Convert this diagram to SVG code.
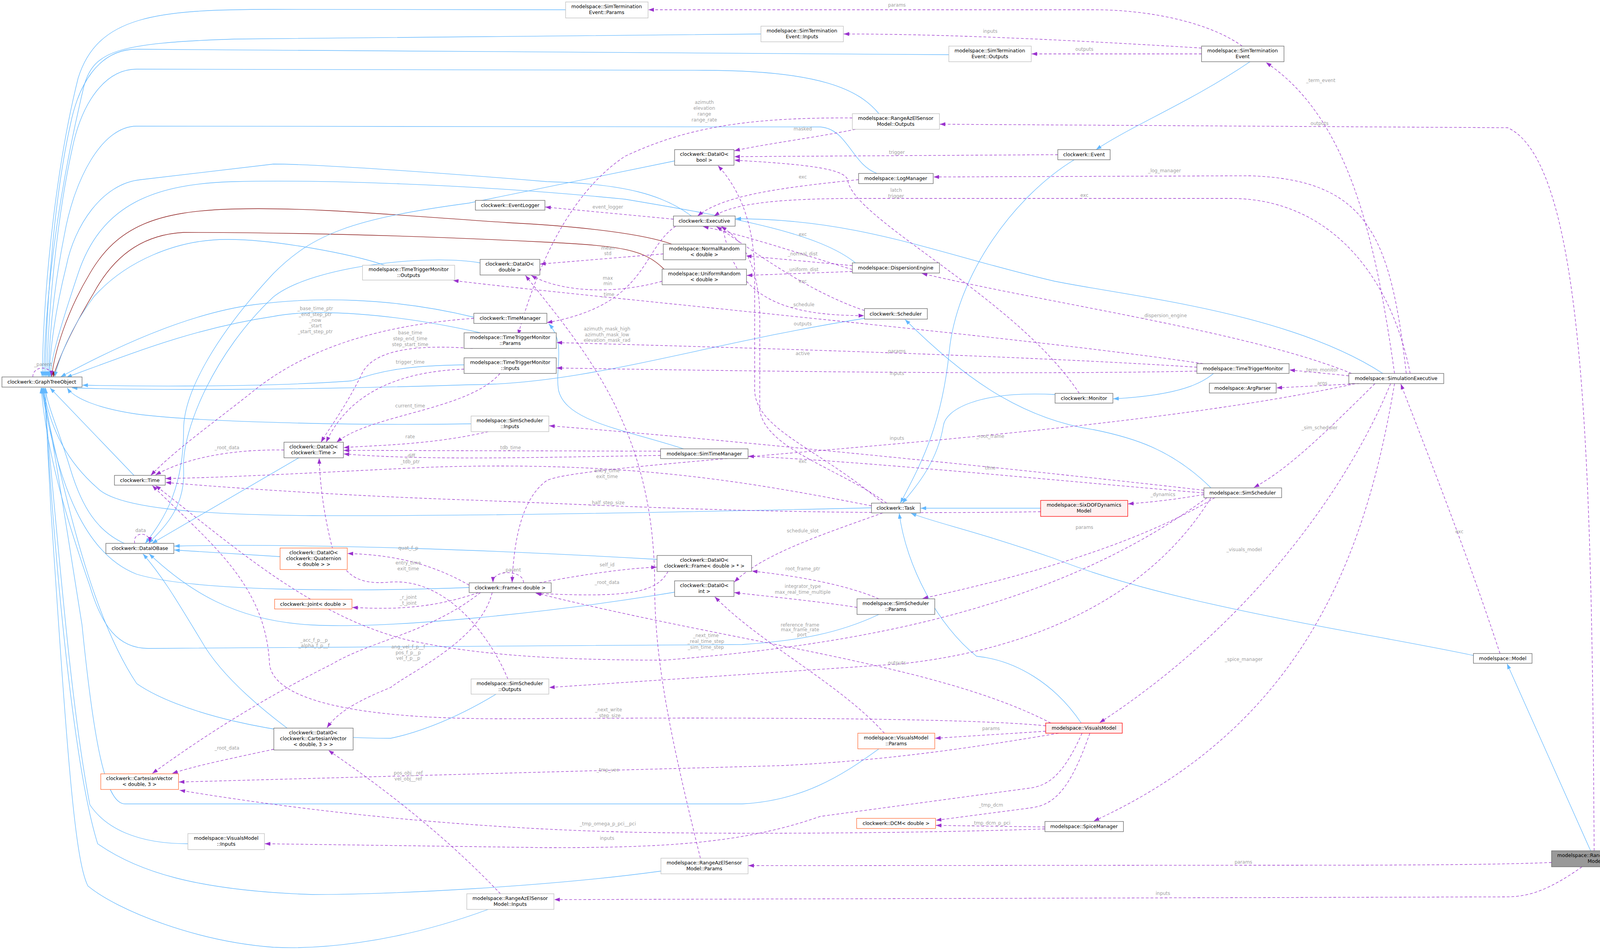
<svg xmlns="http://www.w3.org/2000/svg" width="4199" height="2432" viewBox="0 0 4199 2432">
<style>
.n text{font-family:"DejaVu Sans",sans-serif;font-size:12.5px;text-anchor:middle;fill:#000}
.n rect{fill:#fff;stroke:#666;stroke-width:1.3}
.n.lt rect{stroke:#bdbdbd}
.n.or rect{stroke:#ff6a33}
.n.rd rect{stroke:#ff0000;fill:#fff0f0}
.n.gy rect{fill:#999;stroke:#666}
.b{fill:none;stroke:#63b8ff;stroke-width:1.3;marker-end:url(#ab)}
.r{fill:none;stroke:#8b1a1a;stroke-width:1.3;marker-end:url(#ar)}
.p{fill:none;stroke:#9a32cd;stroke-width:1.3;stroke-dasharray:7,5;marker-end:url(#ap)}
.l{font-family:"DejaVu Sans",sans-serif;font-size:12px;text-anchor:middle;fill:#a0a0a0}
</style>
<defs>
<marker id="ab" markerUnits="userSpaceOnUse" markerWidth="14" markerHeight="10" refX="14" refY="5" orient="auto"><path d="M0,0L14,5L0,10z" fill="#63b8ff"/></marker>
<marker id="ar" markerUnits="userSpaceOnUse" markerWidth="14" markerHeight="10" refX="14" refY="5" orient="auto"><path d="M0,0L14,5L0,10z" fill="#8b1a1a"/></marker>
<marker id="ap" markerUnits="userSpaceOnUse" markerWidth="14" markerHeight="10" refX="14" refY="5" orient="auto"><path d="M0,0L14,5L0,10z" fill="#9a32cd"/></marker>
</defs>
<rect width="4199" height="2432" fill="#fff"/>
<g id="connectors">
<!-- inheritance to GraphTreeObject -->
<path class="b" d="M1448,25 L700,24 C400,24 250,40 200,200 C150,400 112,700 108,965"/>
<path class="b" d="M1948,87 L600,100 C300,110 240,130 215,220 C160,450 118,700 112,965"/>
<path class="b" d="M2429,140 L350,126 C250,126 200,220 180,320 C140,500 120,750 116,965"/>
<path class="b" d="M2250,291 C2200,230 2100,180 1800,180 L350,177 C270,177 210,260 185,380 C145,560 123,800 120,965"/>
<path class="b" d="M2245,444 C2180,420 2170,330 2100,325 L350,323 C260,323 190,460 165,600 C135,750 126,870 124,965"/>
<path class="b" d="M1770,553 C1700,500 1600,470 1400,465 C1100,440 800,420 700,420 L360,460 C260,470 190,580 170,680 C140,800 128,900 126,965"/>
<path class="b" d="M2190,673 C2100,600 1900,560 1600,510 C1200,470 800,460 600,465 C400,470 260,520 200,700 C150,850 130,920 129,965"/>
<path class="r" d="M1720,625 C1650,600 1500,580 1300,570 C1000,550 800,530 600,535 C400,540 300,580 230,700 C170,800 140,900 132,965"/>
<path class="r" d="M1700,689 C1650,640 1600,630 1400,620 C1000,600 700,595 470,595 C380,600 300,640 240,750 C180,850 150,920 136,965"/>
<path class="b" d="M985,679 C900,650 700,612 580,613 C450,613 320,670 240,760 C180,840 150,920 140,965"/>
<path class="b" d="M1213,812 C1000,760 800,760 650,780 C500,800 330,870 155,965"/>
<path class="b" d="M1230,852 C1000,800 800,790 700,810 C500,840 350,900 170,966"/>
<path class="b" d="M1188,934 C1000,936 950,960 900,975 C700,990 400,990 211,986"/>
<path class="b" d="M2213,815 C1800,880 1500,985 1200,985 C800,998 400,1000 184,993"/>
<path class="b" d="M1206,1085 C900,1090 500,1080 350,1060 C250,1045 190,1020 172,993"/>
<path class="b" d="M343,1217 L128,993"/>
<path class="b" d="M318,1391 C250,1360 210,1300 180,1200 C150,1100 125,1050 115,993"/>
<path class="b" d="M2231,1300 C1800,1310 1200,1322 800,1320 C500,1318 300,1300 250,1250 C170,1180 130,1100 110,993"/>
<path class="b" d="M1201,1504 C900,1515 500,1515 350,1470 C220,1420 150,1250 106,993"/>
<path class="b" d="M2250,1573 C2150,1620 2050,1640 1900,1650 L380,1660 C300,1660 260,1600 230,1500 C160,1300 120,1150 105,993"/>
<path class="b" d="M1270,1777 C1150,1850 1050,1880 1000,1890 C700,1890 450,1820 350,1750 C250,1600 180,1350 107,993"/>
<path class="b" d="M2250,1917 C2150,1990 2050,2050 1900,2058 L320,2058 C270,2058 240,1900 210,1600 C170,1350 140,1150 109,993"/>
<path class="b" d="M481,2160 C350,2160 270,2120 230,2060 C180,1800 150,1400 111,993"/>
<path class="b" d="M1692,2230 C1400,2270 1000,2290 800,2290 C500,2280 350,2230 250,2160 C200,2000 150,1600 113,993"/>
<path class="b" d="M1250,2328 C1000,2420 800,2430 700,2425 C500,2410 300,2330 225,2268 C190,2200 170,1900 130,1300 C125,1200 118,1100 117,993"/>
<!-- DataIOBase -->
<path class="b" d="M1727,412 C1500,460 1300,500 1200,520 C900,560 800,600 700,700 C560,850 470,1000 470,1100 C470,1250 420,1330 372,1391"/>
<path class="b" d="M1229,673 C1100,650 800,680 700,760 C550,900 465,1100 470,1200 C475,1300 420,1350 380,1391"/>
<path class="b" d="M765,1172 L389,1391"/>
<path class="b" d="M717,1425 L446,1408"/>
<path class="b" d="M1682,1432 C1300,1410 800,1390 446,1398"/>
<path class="b" d="M1727,1516 C1400,1570 1000,1610 800,1600 C600,1590 480,1510 382,1418"/>
<path class="b" d="M735,1864 C650,1800 560,1720 515,1640 C460,1550 420,1480 366,1418"/>
<!-- other inheritance -->
<path class="b" d="M3540,956 C3300,800 2900,760 2700,720 C2400,650 2200,560 1883,560"/>
<path class="b" d="M1750,1149 C1600,1100 1450,1080 1430,1000 C1420,940 1450,880 1405,829"/>
<path class="b" d="M3130,931 C3100,970 3050,1010 2850,1021"/>
<path class="b" d="M3200,158 C3050,260 2900,320 2806,383"/>
<path class="b" d="M3100,1249 C3000,1150 2900,1120 2800,1100 C2600,1070 2450,950 2317,818"/>
<path class="b" d="M2701,1010 C2500,1000 2420,1050 2415,1090 C2400,1180 2350,1240 2310,1288"/>
<path class="b" d="M2750,409 C2600,500 2450,700 2430,900 C2410,1100 2350,1200 2305,1288"/>
<path class="b" d="M2664,1301 L2357,1301"/>
<path class="b" d="M2768,1851 C2700,1750 2600,1690 2500,1680 C2400,1600 2320,1450 2302,1314"/>
<path class="b" d="M3772,1678 C3500,1620 3000,1550 2700,1430 C2500,1360 2400,1340 2332,1314"/>
<path class="b" d="M4072,2178 L3858,1699"/>
<!-- members -->
<path class="p" d="M3180,118 C3100,60 2950,25 2800,25 L1660,25"/>
<path class="p" d="M3076,123 C2700,100 2400,87 2160,87"/>
<path class="p" d="M3076,138 L2641,138"/>
<path class="p" d="M4081,2178 C4075,1200 4060,420 3860,327 L2406,318"/>
<path class="p" d="M3570,956 C3520,600 3450,300 3241,160"/>
<path class="p" d="M2182,302 C1900,300 1750,330 1600,400 C1450,500 1370,700 1326,858"/>
<path class="p" d="M2190,331 C2100,350 1950,370 1880,386"/>
<path class="p" d="M2708,396 L1880,401"/>
<path class="p" d="M2763,1007 C2600,760 2180,560 2170,460 C2160,430 2050,420 1880,410"/>
<path class="p" d="M3600,956 C3560,600 3500,460 3200,450 L2390,453"/>
<path class="p" d="M3610,956 C3560,700 3400,508 3150,508 L2200,508 C2000,508 1880,520 1828,553"/>
<path class="p" d="M2198,460 C2000,480 1850,500 1786,553"/>
<path class="p" d="M1724,561 L1396,530"/>
<path class="p" d="M2182,690 C2050,650 1900,600 1800,580"/>
<path class="p" d="M1698,650 L1383,676"/>
<path class="p" d="M2182,680 L1910,655"/>
<path class="p" d="M2182,695 L1912,705"/>
<path class="p" d="M1695,720 C1550,760 1420,740 1360,705"/>
<path class="p" d="M2213,795 C2050,740 1900,620 1834,580"/>
<path class="p" d="M1730,579 C1640,640 1660,780 1400,826"/>
<path class="p" d="M1850,579 C1880,760 2000,808 2212,808"/>
<path class="p" d="M3460,956 C3200,850 2700,780 2360,700"/>
<path class="p" d="M3080,931 C2600,860 1500,760 1160,718"/>
<path class="p" d="M3064,940 C2600,910 1900,890 1425,877"/>
<path class="p" d="M3064,950 C2600,960 1900,950 1425,942"/>
<path class="p" d="M3453,962 L3301,947"/>
<path class="p" d="M3480,982 L3268,993"/>
<path class="p" d="M1213,815 C1000,830 800,880 650,1000 C550,1080 450,1150 386,1217"/>
<path class="p" d="M1210,892 C1050,880 950,900 925,960 C880,1050 840,1100 822,1132"/>
<path class="p" d="M1188,945 C1050,950 900,990 835,1132"/>
<path class="p" d="M1280,956 C1200,1050 950,1060 862,1132"/>
<path class="p" d="M1250,1105 C1100,1140 950,1140 880,1146"/>
<path class="p" d="M1691,1155 L880,1153"/>
<path class="p" d="M1691,1166 C1400,1170 1100,1180 880,1162"/>
<path class="p" d="M727,1152 C600,1150 480,1170 398,1216"/>
<path class="p" d="M2231,1295 C1900,1230 1600,1180 1100,1196 C800,1210 600,1222 424,1225"/>
<path class="p" d="M2664,1310 C2000,1320 1600,1295 1200,1280 C900,1270 600,1250 424,1235"/>
<path class="p" d="M3082,1255 C2600,1200 1800,1120 1406,1090"/>
<path class="p" d="M3470,982 C2800,1130 1500,1180 1400,1230 C1330,1280 1315,1400 1311,1491"/>
<path class="p" d="M3082,1262 C2700,1230 2200,1180 1916,1168"/>
<path class="p" d="M3082,1266 C3000,1280 2950,1285 2888,1290"/>
<path class="p" d="M3110,1274 C2900,1400 2600,1480 2362,1532"/>
<path class="p" d="M3520,982 C3400,1100 3300,1200 3210,1248"/>
<path class="p" d="M3560,982 C3450,1250 3200,1600 2815,1850"/>
<path class="p" d="M3570,982 C3500,1400 3350,1850 2800,2102"/>
<path class="p" d="M3840,1673 C3750,1400 3650,1150 3586,983"/>
<path class="p" d="M3972,2208 C3800,2215 3500,2215 3200,2215 L1916,2216"/>
<path class="p" d="M4050,2219 C3950,2290 3900,2296 3850,2296 L1419,2303"/>
<path class="p" d="M2677,1872 L2394,1890"/>
<path class="p" d="M2770,1877 C2720,1990 2680,2010 2640,2017 L2100,2090 C1900,2160 1700,2170 1400,2170 L678,2160"/>
<path class="p" d="M2790,1877 C2740,2020 2700,2060 2640,2068 L2396,2100"/>
<path class="p" d="M2675,2117 L2396,2113"/>
<path class="p" d="M2675,2122 C2300,2135 1800,2135 1600,2130 C1200,2120 800,2080 460,2023"/>
<path class="p" d="M2710,1877 C2400,1930 2200,1950 2000,1960 L458,2002"/>
<path class="p" d="M2677,1858 C2400,1830 1400,1840 1280,1840 C900,1840 700,1790 690,1700 C680,1500 550,1400 390,1243"/>
<path class="p" d="M2690,1851 C2400,1700 1900,1650 1371,1518"/>
<path class="p" d="M2264,1877 C2150,1750 1950,1650 1830,1528"/>
<path class="p" d="M2250,1533 C2150,1490 2000,1470 1925,1462"/>
<path class="p" d="M2194,1555 C2100,1540 1950,1525 1880,1517"/>
<path class="p" d="M2260,1313 C2100,1370 1950,1420 1880,1490"/>
<path class="p" d="M1380,1492 C1500,1470 1600,1455 1681,1452"/>
<path class="p" d="M1710,1463 C1680,1520 1600,1530 1372,1519"/>
<path class="p" d="M1340,1492 C1342,1460 1262,1455 1262,1491"/>
<path class="p" d="M1201,1498 C1100,1440 1000,1420 890,1417"/>
<path class="p" d="M1225,1517 C1100,1560 1000,1560 902,1555"/>
<path class="p" d="M1300,1738 C1260,1640 1150,1480 1000,1490 C900,1500 880,1460 850,1400 C830,1320 820,1250 817,1173"/>
<path class="p" d="M1230,1517 C1100,1620 950,1640 850,1700 C650,1800 500,1900 390,1980"/>
<path class="p" d="M1260,1517 C1230,1640 1050,1720 1000,1760 C900,1800 860,1830 837,1863"/>
<path class="p" d="M701,1918 C600,1940 500,1960 441,1980"/>
<path class="p" d="M1281,2288 C1150,2150 1000,2030 841,1921"/>
<path class="p" d="M3100,1274 C2900,1600 2500,1680 2300,1700 L1406,1760"/>
<path class="p" d="M3090,1274 C2700,1560 2200,1650 1700,1690 C1300,1690 1150,1660 1050,1640 C800,1580 600,1400 398,1243"/>
<path class="p" d="M1793,2197 C1720,1900 1676,1700 1676,1500 C1676,1100 1500,900 1345,705"/>
<path class="p" d="M2260,1288 C2100,1150 1935,1100 1932,1000 L1932,700 C1930,550 1880,470 1838,424"/>
<path class="p" d="M2270,1288 C2150,1200 1960,1150 1945,1050 L1945,800 C1940,650 1880,600 1846,580"/>
<path class="p" d="M345,1391 C338,1360 385,1360 383,1389"/>
<path class="p" d="M84,965 C84,935 132,935 132,963"/>
</g>
<g id="labels">
<text class="l" x="2296" y="17">params</text>
<text class="l" x="2535" y="84">inputs</text>
<text class="l" x="2776" y="130">outputs</text>
<text class="l" x="3378" y="320">outputs</text>
<text class="l" x="3381" y="210">_term_event</text>
<text class="l" x="1803" y="266">azimuth</text><text class="l" x="1803" y="281">elevation</text><text class="l" x="1803" y="296">range</text><text class="l" x="1803" y="311">range_rate</text>
<text class="l" x="2055" y="334">masked</text>
<text class="l" x="2296" y="394">trigger</text>
<text class="l" x="2294" y="491">latch</text><text class="l" x="2294" y="506">trigger</text>
<text class="l" x="2981" y="441">_log_manager</text>
<text class="l" x="2776" y="504">exc</text>
<text class="l" x="2055" y="457">exc</text>
<text class="l" x="1556" y="534">event_logger</text>
<text class="l" x="2055" y="604">exc</text>
<text class="l" x="1556" y="639">mean</text><text class="l" x="1556" y="653">std</text>
<text class="l" x="2055" y="654">_normal_dist</text>
<text class="l" x="2055" y="694">_uniform_dist</text>
<text class="l" x="2055" y="724">exc</text>
<text class="l" x="1556" y="716">max</text><text class="l" x="1556" y="730">min</text>
<text class="l" x="1556" y="758">_time</text>
<text class="l" x="2055" y="784">_schedule</text>
<text class="l" x="2981" y="812">_dispersion_engine</text>
<text class="l" x="2055" y="833">outputs</text>
<text class="l" x="2055" y="909">active</text>
<text class="l" x="1554" y="846">azimuth_mask_high</text><text class="l" x="1554" y="861">azimuth_mask_low</text><text class="l" x="1554" y="875">elevation_mask_rad</text>
<text class="l" x="2296" y="903">params</text>
<text class="l" x="2296" y="960">inputs</text>
<text class="l" x="3382" y="951">_term_monitor</text>
<text class="l" x="3382" y="985">_args</text>
<text class="l" x="807" y="794">_base_time_ptr</text><text class="l" x="807" y="809">_end_step_ptr</text><text class="l" x="807" y="824">_now</text><text class="l" x="807" y="838">_start</text><text class="l" x="807" y="853">_start_step_ptr</text>
<text class="l" x="1050" y="856">base_time</text><text class="l" x="1050" y="871">step_end_time</text><text class="l" x="1050" y="886">step_start_time</text>
<text class="l" x="1050" y="931">trigger_time</text>
<text class="l" x="1050" y="1043">current_time</text>
<text class="l" x="1050" y="1122">rate</text>
<text class="l" x="1307" y="1150">tdb_time</text>
<text class="l" x="1050" y="1171">_diff</text><text class="l" x="1050" y="1186">_tdb_ptr</text>
<text class="l" x="581" y="1150">_root_data</text>
<text class="l" x="110" y="937">_parent</text>
<text class="l" x="360" y="1362">data</text>
<text class="l" x="2296" y="1126">inputs</text>
<text class="l" x="2535" y="1121">_root_frame</text>
<text class="l" x="2535" y="1202">time</text>
<text class="l" x="2055" y="1185">exc</text>
<text class="l" x="1554" y="1209">entry_time</text><text class="l" x="1554" y="1224">exit_time</text>
<text class="l" x="2977" y="1270">_dynamics</text>
<text class="l" x="1554" y="1291">_half_step_size</text>
<text class="l" x="3378" y="1099">_sim_scheduler</text>
<text class="l" x="2776" y="1354">params</text>
<text class="l" x="2055" y="1363">schedule_slot</text>
<text class="l" x="3736" y="1365">exc</text>
<text class="l" x="3185" y="1411">_visuals_model</text>
<text class="l" x="1045" y="1407">quat_f_p</text>
<text class="l" x="1045" y="1445">entry_time</text><text class="l" x="1045" y="1460">exit_time</text>
<text class="l" x="1554" y="1450">self_id</text>
<text class="l" x="1311" y="1463">_parent</text>
<text class="l" x="2055" y="1460">root_frame_ptr</text>
<text class="l" x="1554" y="1495">_root_data</text>
<text class="l" x="2055" y="1505">integrator_type</text><text class="l" x="2055" y="1520">max_real_time_multiple</text>
<text class="l" x="1045" y="1533">_r_joint</text><text class="l" x="1045" y="1548">_t_joint</text>
<text class="l" x="2048" y="1604">reference_frame</text><text class="l" x="2048" y="1616">max_frame_rate</text><text class="l" x="2053" y="1629">port</text>
<text class="l" x="1807" y="1631">_next_time</text><text class="l" x="1807" y="1646">_real_time_step</text><text class="l" x="1807" y="1661">_sim_time_step</text>
<text class="l" x="804" y="1643">_acc_f_p__p</text><text class="l" x="804" y="1657">_alpha_f_p__f</text>
<text class="l" x="1045" y="1660">ang_vel_f_p__f</text><text class="l" x="1045" y="1675">pos_f_p__p</text><text class="l" x="1045" y="1689">vel_f_p__p</text>
<text class="l" x="3184" y="1692">_spice_manager</text>
<text class="l" x="2296" y="1701">outputs</text>
<text class="l" x="1558" y="1821">_next_write</text><text class="l" x="1558" y="1836">_step_size</text>
<text class="l" x="2537" y="1869">params</text>
<text class="l" x="581" y="1919">_root_data</text>
<text class="l" x="1556" y="1975">_tmp_vec</text>
<text class="l" x="1045" y="1983">pos_obj__ref</text><text class="l" x="1045" y="1998">vel_obj__ref</text>
<text class="l" x="2537" y="2065">_tmp_dcm</text>
<text class="l" x="2537" y="2111">_tmp_dcm_p_pci</text>
<text class="l" x="1556" y="2113">_tmp_omega_p_pci__pci</text>
<text class="l" x="1554" y="2150">inputs</text>
<text class="l" x="3183" y="2211">params</text>
<text class="l" x="2977" y="2291">inputs</text>
</g>
<g id="n_gto" class="n"><rect x="5" y="965" width="205" height="26"/><text x="107" y="982">clockwerk::GraphTreeObject</text></g>
<g id="n_time" class="n"><rect x="293" y="1217" width="130" height="25"/><text x="358" y="1234">clockwerk::Time</text></g>
<g id="n_dataiobase" class="n"><rect x="271" y="1391" width="174" height="26"/><text x="358" y="1408">clockwerk::DataIOBase</text></g>
<g id="n_dio_time" class="n"><rect x="727" y="1132" width="152" height="40"/><text x="803" y="1148">clockwerk::DataIO&lt;</text><text x="803" y="1163">clockwerk::Time &gt;</text></g>
<g id="n_dio_quat" class="n or"><rect x="717" y="1403" width="172" height="55"/><text x="803" y="1419">clockwerk::DataIO&lt;</text><text x="803" y="1434">clockwerk::Quaternion</text><text x="803" y="1449">&lt; double &gt; &gt;</text></g>
<g id="n_joint" class="n or"><rect x="703" y="1534" width="198" height="25"/><text x="802" y="1551">clockwerk::Joint&lt; double &gt;</text></g>
<g id="n_ttm_out" class="n lt"><rect x="928" y="679" width="236" height="38"/><text x="1046" y="694">modelspace::TimeTriggerMonitor</text><text x="1046" y="709">::Outputs</text></g>
<g id="n_ste_params" class="n lt"><rect x="1448" y="5" width="211" height="41"/><text x="1553" y="21">modelspace::SimTermination</text><text x="1553" y="36">Event::Params</text></g>
<g id="n_ste_inputs" class="n lt"><rect x="1948" y="67" width="211" height="40"/><text x="2053" y="83">modelspace::SimTermination</text><text x="2053" y="98">Event::Inputs</text></g>
<g id="n_dio_bool" class="n"><rect x="1727" y="383" width="152" height="40"/><text x="1803" y="399">clockwerk::DataIO&lt;</text><text x="1803" y="414">bool &gt;</text></g>
<g id="n_eventlogger" class="n"><rect x="1217" y="513" width="178" height="25"/><text x="1306" y="530">clockwerk::EventLogger</text></g>
<g id="n_executive" class="n"><rect x="1724" y="553" width="158" height="26"/><text x="1803" y="570">clockwerk::Executive</text></g>
<g id="n_normal" class="n"><rect x="1698" y="625" width="211" height="40"/><text x="1803" y="641">modelspace::NormalRandom</text><text x="1803" y="656">&lt; double &gt;</text></g>
<g id="n_uniform" class="n"><rect x="1695" y="689" width="216" height="40"/><text x="1803" y="705">modelspace::UniformRandom</text><text x="1803" y="720">&lt; double &gt;</text></g>
<g id="n_dio_double" class="n"><rect x="1229" y="664" width="153" height="40"/><text x="1305" y="680">clockwerk::DataIO&lt;</text><text x="1305" y="695">double &gt;</text></g>
<g id="n_timemanager" class="n"><rect x="1213" y="802" width="187" height="26"/><text x="1306" y="819">clockwerk::TimeManager</text></g>
<g id="n_ste_outputs" class="n lt"><rect x="2429" y="118" width="211" height="40"/><text x="2534" y="134">modelspace::SimTermination</text><text x="2534" y="149">Event::Outputs</text></g>
<g id="n_ste" class="n"><rect x="3076" y="118" width="211" height="40"/><text x="3181" y="134">modelspace::SimTermination</text><text x="3181" y="149">Event</text></g>
<g id="n_raesm_out" class="n lt"><rect x="2182" y="291" width="223" height="40"/><text x="2293" y="307">modelspace::RangeAzElSensor</text><text x="2293" y="322">Model::Outputs</text></g>
<g id="n_event" class="n"><rect x="2708" y="383" width="134" height="26"/><text x="2775" y="400">clockwerk::Event</text></g>
<g id="n_logmanager" class="n"><rect x="2198" y="444" width="191" height="26"/><text x="2293" y="461">modelspace::LogManager</text></g>
<g id="n_dispersion" class="n"><rect x="2182" y="673" width="223" height="26"/><text x="2293" y="690">modelspace::DispersionEngine</text></g>
<g id="n_scheduler" class="n"><rect x="2213" y="790" width="161" height="27"/><text x="2293" y="808">clockwerk::Scheduler</text></g>
<g id="n_ttm_params" class="n"><rect x="1188" y="852" width="236" height="40"/><text x="1306" y="868">modelspace::TimeTriggerMonitor</text><text x="1306" y="883">::Params</text></g>
<g id="n_ttm_inputs" class="n"><rect x="1188" y="916" width="236" height="40"/><text x="1306" y="932">modelspace::TimeTriggerMonitor</text><text x="1306" y="947">::Inputs</text></g>
<g id="n_ss_inputs" class="n lt"><rect x="1206" y="1065" width="199" height="40"/><text x="1305" y="1081">modelspace::SimScheduler</text><text x="1305" y="1096">::Inputs</text></g>
<g id="n_simtimemanager" class="n"><rect x="1691" y="1149" width="224" height="25"/><text x="1803" y="1166">modelspace::SimTimeManager</text></g>
<g id="n_dio_frame" class="n"><rect x="1682" y="1422" width="242" height="41"/><text x="1803" y="1438">clockwerk::DataIO&lt;</text><text x="1803" y="1453">clockwerk::Frame&lt; double &gt; * &gt;</text></g>
<g id="n_frame" class="n"><rect x="1201" y="1492" width="210" height="25"/><text x="1306" y="1509">clockwerk::Frame&lt; double &gt;</text></g>
<g id="n_dio_int" class="n"><rect x="1727" y="1487" width="152" height="40"/><text x="1803" y="1503">clockwerk::DataIO&lt;</text><text x="1803" y="1518">int &gt;</text></g>
<g id="n_dio_cv" class="n"><rect x="701" y="1864" width="203" height="56"/><text x="802" y="1880">clockwerk::DataIO&lt;</text><text x="802" y="1895">clockwerk::CartesianVector</text><text x="802" y="1910">&lt; double, 3 &gt; &gt;</text></g>
<g id="n_cv" class="n or"><rect x="258" y="1981" width="199" height="40"/><text x="357" y="1997">clockwerk::CartesianVector</text><text x="357" y="2012">&lt; double, 3 &gt;</text></g>
<g id="n_vm_inputs" class="n lt"><rect x="481" y="2134" width="196" height="41"/><text x="579" y="2150">modelspace::VisualsModel</text><text x="579" y="2165">::Inputs</text></g>
<g id="n_ss_outputs" class="n lt"><rect x="1206" y="1738" width="199" height="39"/><text x="1305" y="1754">modelspace::SimScheduler</text><text x="1305" y="1769">::Outputs</text></g>
<g id="n_raesm_params" class="n lt"><rect x="1692" y="2197" width="223" height="40"/><text x="1803" y="2213">modelspace::RangeAzElSensor</text><text x="1803" y="2228">Model::Params</text></g>
<g id="n_raesm_inputs" class="n lt"><rect x="1195" y="2288" width="223" height="40"/><text x="1306" y="2304">modelspace::RangeAzElSensor</text><text x="1306" y="2319">Model::Inputs</text></g>
<g id="n_vm" class="n rd"><rect x="2677" y="1851" width="196" height="26"/><text x="2775" y="1868">modelspace::VisualsModel</text></g>
<g id="n_vm_params" class="n or"><rect x="2196" y="1877" width="197" height="40"/><text x="2294" y="1893">modelspace::VisualsModel</text><text x="2294" y="1908">::Params</text></g>
<g id="n_dcm" class="n or"><rect x="2193" y="2095" width="202" height="26"/><text x="2294" y="2112">clockwerk::DCM&lt; double &gt;</text></g>
<g id="n_spice" class="n"><rect x="2675" y="2103" width="201" height="26"/><text x="2775" y="2120">modelspace::SpiceManager</text></g>
<g id="n_monitor" class="n"><rect x="2701" y="1007" width="148" height="25"/><text x="2775" y="1024">clockwerk::Monitor</text></g>
<g id="n_task" class="n"><rect x="2231" y="1288" width="125" height="25"/><text x="2293" y="1305">clockwerk::Task</text></g>
<g id="n_sixdof" class="n rd"><rect x="2664" y="1281" width="223" height="41"/><text x="2775" y="1297">modelspace::SixDOFDynamics</text><text x="2775" y="1312">Model</text></g>
<g id="n_ss_params" class="n"><rect x="2194" y="1533" width="199" height="40"/><text x="2293" y="1549">modelspace::SimScheduler</text><text x="2293" y="1564">::Params</text></g>
<g id="n_ttm" class="n"><rect x="3064" y="931" width="236" height="25"/><text x="3182" y="948">modelspace::TimeTriggerMonitor</text></g>
<g id="n_argparser" class="n"><rect x="3096" y="981" width="171" height="25"/><text x="3181" y="998">modelspace::ArgParser</text></g>
<g id="n_simscheduler" class="n"><rect x="3082" y="1249" width="199" height="25"/><text x="3181" y="1266">modelspace::SimScheduler</text></g>
<g id="n_simexec" class="n"><rect x="3453" y="956" width="243" height="26"/><text x="3574" y="973">modelspace::SimulationExecutive</text></g>
<g id="n_model" class="n"><rect x="3772" y="1673" width="150" height="25"/><text x="3847" y="1690">modelspace::Model</text></g>
<g id="n_raesm" class="n gy"><rect x="3972" y="2178" width="223" height="41"/><text x="4083" y="2194">modelspace::RangeAzElSensor</text><text x="4083" y="2209">Model</text></g>
</svg>
